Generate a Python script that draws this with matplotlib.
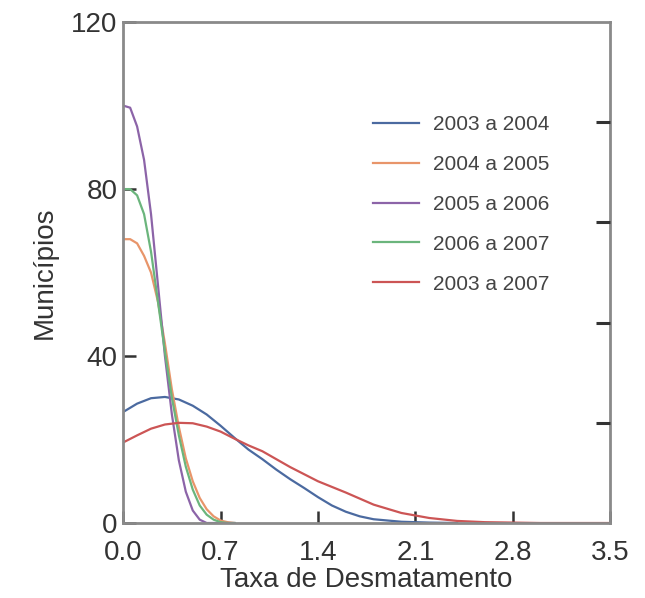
import numpy as np
import matplotlib.pyplot as plt

plt.rcParams['font.family'] = ['Liberation Sans', 'DejaVu Sans']

# Curvas estreitas
x_estreito = [0, 0.05, 0.1, 0.15, 0.2, 0.25, 0.3, 0.35, 0.4, 0.45, 0.5, 0.55, 0.6, 0.65, 0.7, 0.75, 0.8]
y_0506 = [100, 99.5, 95, 87, 74, 57, 40, 26, 15, 7.5, 3, 0.8, 0, 0, 0, 0, 0]
y_0607 = [80, 80, 78.5, 74, 65, 53, 41, 30, 21, 13.5, 8, 4.2, 2, 0.8, 0.2, 0, 0]
y_0405 = [68, 68, 67, 64, 60, 53, 43, 32, 23, 15.5, 10, 6, 3.3, 1.6, 0.6, 0.2, 0]

# Curvas largas
x_0304 = [0, 0.1, 0.2, 0.3, 0.4, 0.5, 0.6, 0.7, 0.8, 0.9, 1.0, 1.1, 1.2, 1.3, 1.4, 1.5, 1.6, 1.7, 1.8, 2.0, 2.2, 2.4]
y_0304 = [26.6, 28.6, 29.9, 30.2, 29.6, 28.1, 26, 23.3, 20.4, 17.6, 15.3, 12.8, 10.5, 8.4, 6.2, 4.2, 2.7, 1.6, 0.9, 0.3, 0.1, 0]
x_0307 = [0, 0.1, 0.2, 0.3, 0.4, 0.5, 0.6, 0.7, 0.8, 0.9, 1.0, 1.2, 1.4, 1.6, 1.8, 2.0, 2.2, 2.4, 2.6, 3.0, 3.5]
y_0307 = [19.3, 21, 22.6, 23.6, 24, 23.9, 23.1, 21.9, 20.2, 18.6, 17.2, 13.4, 10, 7.3, 4.4, 2.4, 1.2, 0.5, 0.2, 0, 0]

x_ticks = [0.0, 0.7, 1.4, 2.1, 2.8, 3.5]
y_ticks = [0, 40, 80, 120]
right_ticks = [0.2, 0.4, 0.6, 0.8]

fig = plt.figure(figsize=(6.45, 5.98), dpi=100)
ax = fig.add_axes([0.191, 0.1254, 0.755, 0.8376])

lw = 1.6
ax.plot(x_0304, y_0304, color='#4b6aa0', lw=lw, label='2003 a 2004')
ax.plot(x_estreito, y_0405, color='#e8956a', lw=lw, label='2004 a 2005')
ax.plot(x_estreito, y_0506, color='#8c64a8', lw=lw, label='2005 a 2006')
ax.plot(x_estreito, y_0607, color='#6bb57c', lw=lw, label='2006 a 2007')
ax.plot(x_0307, y_0307, color='#cc5555', lw=lw, label='2003 a 2007')

ax.set_xlim(0, 3.5)
ax.set_ylim(0, 120)
ax.set_xticks(x_ticks)
ax.set_xticklabels(['%.1f' % v for v in x_ticks])
ax.set_yticks(y_ticks)
ax.tick_params(direction='in', length=9, width=1.8, color='#333333',
               labelsize=20, labelcolor='#333333')
ax.tick_params(axis='x', pad=12)
ax.tick_params(axis='y', pad=4)
for s in ax.spines.values():
    s.set_color('#8a8a8a')
    s.set_linewidth(2)

ax.set_xlabel('Taxa de Desmatamento', fontsize=20, color='#333333', labelpad=1)
ax.set_ylabel('Municípios', fontsize=20, color='#333333', labelpad=10)

ax2 = ax.twinx()
ax2.set_ylim(0, 1)
ax2.set_yticks(right_ticks)
ax2.set_yticklabels([])
ax2.tick_params(direction='in', length=10, width=2.2, color='#333333')
for s in ax2.spines.values():
    s.set_visible(False)

ax.legend(loc='upper left', bbox_to_anchor=(0.513, 0.814), frameon=False,
          fontsize=15, borderpad=0, borderaxespad=0, handlelength=2.2,
          handletextpad=0.7, labelspacing=1.0, labelcolor='#444444')

plt.savefig('out.png', dpi=100)
